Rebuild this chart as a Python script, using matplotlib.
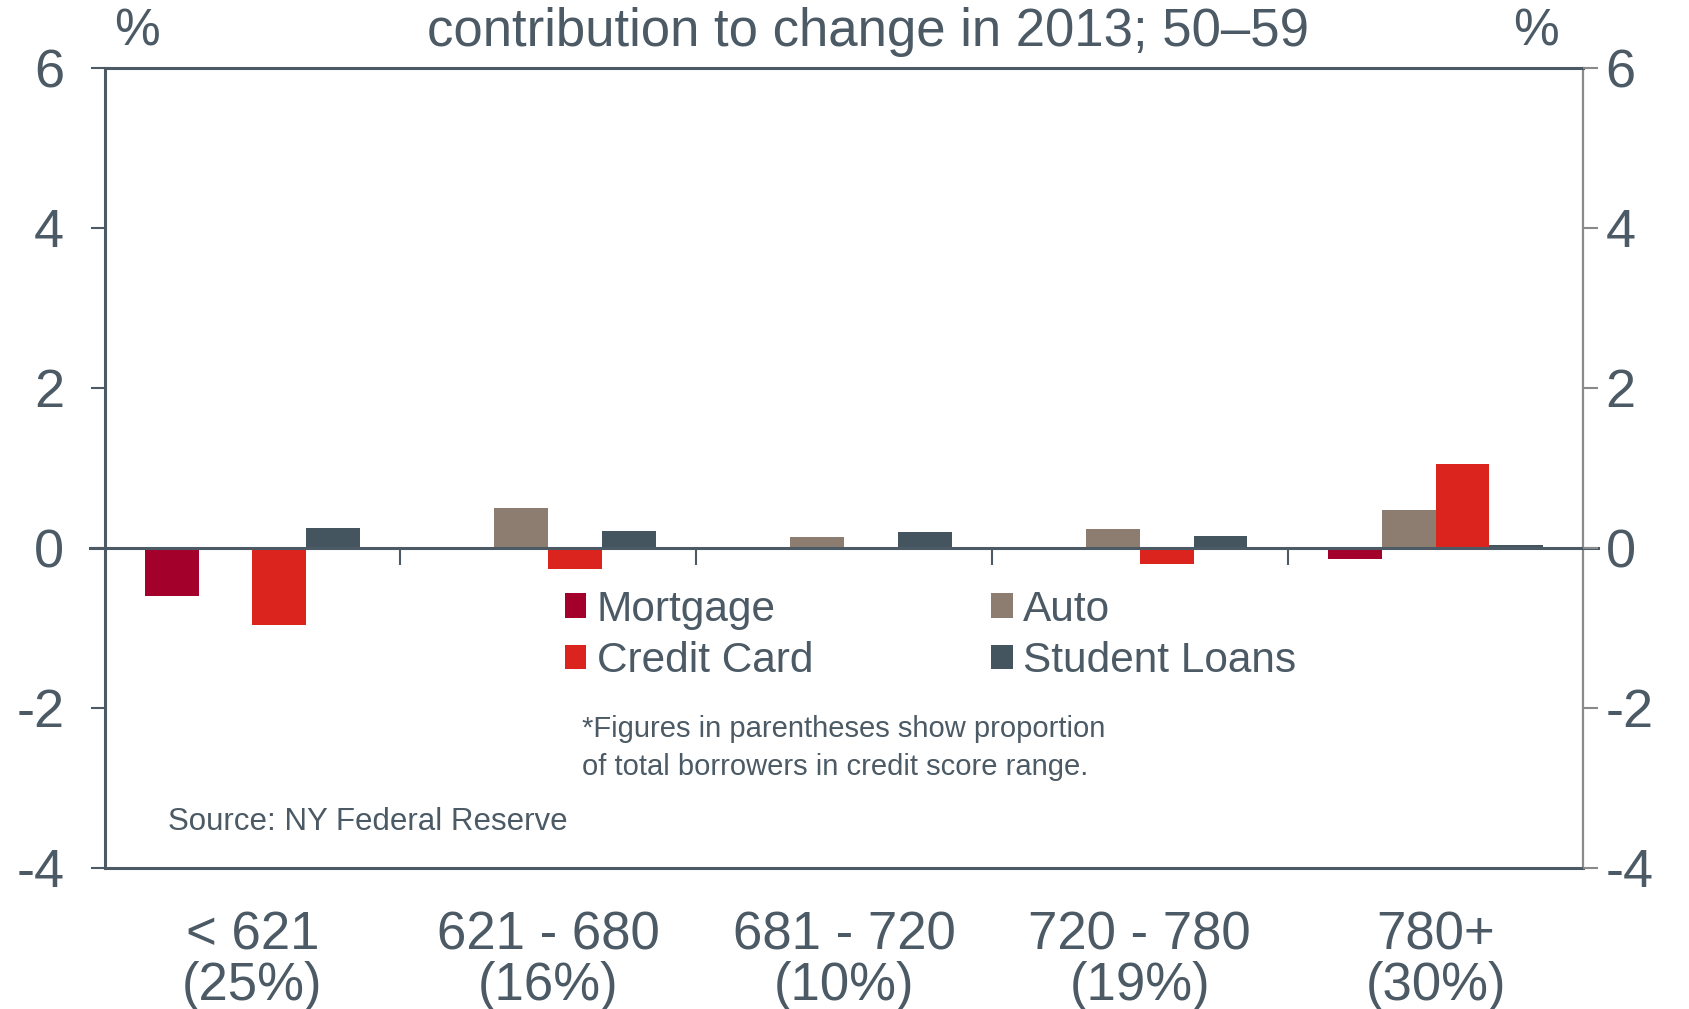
import matplotlib
matplotlib.use('Agg')
import matplotlib.pyplot as plt
import numpy as np
from matplotlib.patches import Patch

plt.rcParams['font.family'] = ['Liberation Sans', 'DejaVu Sans']

# ── Data ────────────────────────────────────────────────────────────────────
score_ranges = ['< 621', '621 - 680', '681 - 720', '720 - 780', '780+']
borrower_share = ['(25%)', '(16%)', '(10%)', '(19%)', '(30%)']

series_names = ['Mortgage', 'Auto', 'Credit Card', 'Student Loans']
mortgage = [-0.60, -0.03, 0.0, 0.0, -0.14]
auto = [0.0, 0.50, 0.13, 0.23, 0.475]
credit_card = [-0.96, -0.27, 0.0, -0.20, 1.05]
student_loans = [0.25, 0.21, 0.20, 0.15, 0.035]

y_ticks = [-4, -2, 0, 2, 4, 6]

# ── Style ───────────────────────────────────────────────────────────────────
TEXT = '#4b5a65'
AXIS_DARK = '#4b5a65'
AXIS_LIGHT = '#8a8a8a'
COLORS = ['#a3002b', '#8c7d70', '#dc241f', '#45555f']

fig = plt.figure(figsize=(16.89, 10.09), dpi=100)
ax = fig.add_axes([0.0619, 0.140, 0.8756, 0.7927])

x = np.arange(len(score_ranges))
width = 0.182
all_series = [mortgage, auto, credit_card, student_loans]
for i, (vals, color) in enumerate(zip(all_series, COLORS)):
    ax.bar(x + (i - 1.5) * width, vals, width, color=color, linewidth=0, zorder=2)

ax.set_xlim(-0.5, len(score_ranges) - 0.5)
ax.set_ylim(y_ticks[0], y_ticks[-1])

# zero line and group separators
ax.axhline(0, color=AXIS_DARK, lw=2.2, zorder=3, xmin=-0.01, xmax=1.01, clip_on=False)
ax.vlines(x[:-1] + 0.5, -0.21, 0, color=AXIS_DARK, lw=1.5, zorder=3)

for side in ['top', 'left', 'bottom']:
    ax.spines[side].set_color(AXIS_DARK)
    ax.spines[side].set_linewidth(2.2)
ax.spines['right'].set_color(AXIS_LIGHT)
ax.spines['right'].set_linewidth(1.6)

ax.set_yticks(y_ticks)
ax.set_yticklabels([str(t) for t in y_ticks])
ax.tick_params(axis='y', direction='out', length=10, width=1.5, color=AXIS_DARK,
               labelsize=39, labelcolor=TEXT, pad=19)

ax.set_xticks(x)
ax.set_xticklabels([f'{r}\n{s}' for r, s in zip(score_ranges, borrower_share)],
                   linespacing=1.0)
ax.tick_params(axis='x', length=0, labelsize=38, labelcolor=TEXT, pad=31)

ax2 = ax.twinx()
ax2.set_ylim(y_ticks[0], y_ticks[-1])
ax2.set_yticks(y_ticks)
ax2.set_yticklabels([str(t) for t in y_ticks])
ax2.tick_params(axis='y', direction='out', length=11, width=1.5, color=AXIS_LIGHT,
                labelsize=39, labelcolor=TEXT, pad=5)
for side in ['top', 'left', 'bottom', 'right']:
    ax2.spines[side].set_visible(False)

# legend
handles = [Patch(facecolor=c, edgecolor='none') for c in COLORS]
order = [0, 2, 1, 3]
ax.legend([handles[i] for i in order], [series_names[i] for i in order],
          ncol=2, loc='upper left', bbox_to_anchor=(0.30, 0.369), frameon=False,
          fontsize=30.5, labelcolor=TEXT, handlelength=0.5, handleheight=0.5,
          handletextpad=0.25, columnspacing=4.2, labelspacing=0.28,
          borderaxespad=0)

ax.text(0.323, 0.150, '*Figures in parentheses show proportion\nof total borrowers in credit score range.',
        transform=ax.transAxes, fontsize=21, color=TEXT, va='center', ha='left',
        linespacing=1.45)
ax.text(0.043, 0.057, 'Source: NY Federal Reserve', transform=ax.transAxes,
        fontsize=22.5, color=TEXT, va='center', ha='left')

fig.text(0.5137, 0.968, 'contribution to change in 2013; 50\u201359', fontsize=38,
         color=TEXT, ha='center', va='center')
fig.text(0.081, 0.968, '%', fontsize=37, color=TEXT, ha='center', va='center')
fig.text(0.9095, 0.968, '%', fontsize=37, color=TEXT, ha='center', va='center')

fig.savefig('out.png', dpi=100)
